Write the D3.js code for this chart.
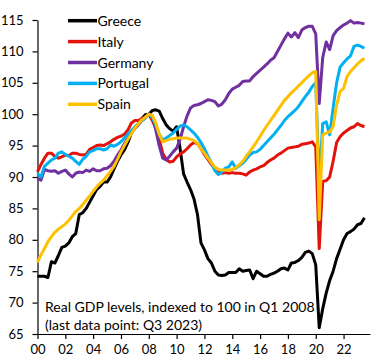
<!DOCTYPE html>
<html>
<head>
<meta charset="utf-8">
<script src="https://cdn.jsdelivr.net/npm/d3@7"></script>
<style>
  html, body { margin: 0; padding: 0; background: #fff; }
  svg { display: block; }
  text { font-family: Lato, "Open Sans", sans-serif; fill: #000; }
</style>
</head>
<body>
<svg id="chart" width="385" height="360"></svg>
<script>
// Quarterly observations, 2000 Q1 .. 2023 Q3 (index = 100 in 2008 Q1)
const startYear = 2000;
const greece = [74.2,74.2,74.2,74.0,76.5,76.3,77.5,78.8,79.0,79.5,80.5,81.0,84.0,84.3,85.0,86.0,87.0,88.0,88.5,89.2,89.2,90.0,91.3,92.5,93.5,94.3,95.5,97.0,97.8,98.5,99.3,99.9,100.0,100.6,100.7,100.5,99.3,98.3,97.7,97.3,98.0,94.5,90.5,89.2,88.0,86.5,84.0,79.5,78.4,77.0,76.3,75.0,74.4,74.3,74.4,74.8,74.8,74.8,75.4,75.0,75.1,75.2,73.8,75.0,74.6,74.2,74.2,74.5,74.7,75.0,75.4,75.5,75.2,76.3,76.4,76.7,77.2,78.0,78.2,77.8,76.0,66.0,69.0,71.5,73.5,75.0,77.0,78.5,80.0,81.0,81.3,81.7,82.4,82.6,83.5];
const italy = [90.8,92.0,93.0,93.8,93.8,93.3,93.0,93.2,93.5,93.4,93.8,93.8,93.6,93.5,93.6,94.4,94.7,95.0,95.1,95.0,95.3,95.6,96.0,96.3,96.5,96.8,97.5,98.6,99.0,99.0,99.3,99.6,100.0,99.0,97.8,96.0,93.8,92.8,92.4,92.5,93.2,93.7,94.0,94.5,95.1,95.5,95.3,94.5,93.6,92.8,92.0,91.3,90.8,90.6,90.7,90.6,90.7,90.6,90.6,90.5,90.3,90.8,91.1,91.3,91.6,91.8,92.3,92.7,93.0,93.5,93.8,94.2,94.6,94.7,94.8,94.9,95.2,95.3,95.4,95.6,94.8,78.6,89.3,89.4,90.0,92.5,95.5,96.4,97.0,97.4,97.8,98.0,98.5,98.2,98.0];
const germany = [89.8,89.5,91.2,91.0,90.9,91.0,90.6,90.9,91.1,90.5,90.0,90.6,90.8,90.7,91.1,90.9,91.3,91.0,91.0,91.3,91.4,91.8,92.5,93.5,94.3,95.3,96.2,97.0,97.8,98.3,99.0,99.4,100.0,99.8,97.5,95.0,93.0,92.7,93.3,94.0,94.6,96.0,98.0,99.7,101.0,101.4,101.5,101.7,102.0,102.3,102.2,102.0,101.3,101.6,102.3,103.3,104.0,104.3,104.6,105.2,105.3,105.3,106.0,106.5,107.0,107.5,108.0,108.6,109.0,110.0,111.0,112.0,112.9,112.3,113.0,112.2,113.4,113.8,114.0,114.0,112.8,101.7,109.0,111.5,110.3,112.5,113.3,113.8,114.2,114.5,114.9,114.5,114.6,114.5,114.4];
const portugal = [90.6,90.0,91.7,92.2,92.7,93.0,93.8,94.0,93.6,93.3,93.0,92.5,92.0,92.8,93.3,94.0,94.2,94.5,94.5,94.3,94.5,95.1,94.9,95.2,95.6,96.2,96.8,97.4,98.0,98.5,99.0,99.4,100.0,99.5,98.3,96.8,95.9,96.2,96.6,97.0,97.6,98.1,98.3,98.0,97.5,97.0,96.3,95.5,94.5,93.3,92.3,91.0,90.4,90.8,91.4,91.6,92.4,91.4,91.8,92.2,92.8,93.5,93.9,94.0,94.4,95.0,95.6,96.2,96.8,97.5,98.2,99.0,99.6,100.1,100.6,101.2,102.0,102.8,103.5,104.4,105.0,89.0,98.5,98.8,96.7,101.0,105.0,107.5,108.2,108.8,109.3,110.8,111.0,110.8,110.5];
const spain = [76.4,77.6,78.6,79.7,80.5,81.2,81.7,82.1,82.5,83.1,83.8,84.5,85.0,85.6,86.3,87.0,87.7,88.4,89.0,89.5,90.2,90.9,91.7,92.8,94.0,95.0,96.0,96.9,97.8,98.5,99.1,99.5,100.0,99.8,98.6,96.8,95.6,95.8,96.0,96.1,96.2,96.2,96.2,96.2,96.0,95.8,95.3,94.5,93.8,93.0,92.3,91.6,91.2,91.1,91.1,91.1,91.2,91.5,91.9,92.5,93.3,94.0,94.8,95.6,96.5,97.4,98.2,99.0,99.8,100.6,101.4,102.2,102.8,103.4,103.9,104.5,105.0,105.6,106.1,106.6,106.8,83.2,96.7,97.0,97.2,98.0,101.5,103.6,104.1,106.0,106.8,107.4,108.0,108.5,108.9];

const seriesNames = ["Greece","Italy","Germany","Portugal","Spain"];
const seriesColors = ["#000000","#E3120B","#7030A0","#00B0F0","#FFC000"];
const yTicks = [65,70,75,80,85,90,95,100,105,110,115];
const xTickYears = [2000,2002,2004,2006,2008,2010,2012,2014,2016,2018,2020,2022];
const xTickLabels = ["00","02","04","06","08","10","12","14","16","18","20","22"];
const noteLines = ["Real GDP levels, indexed to 100 in Q1 2008","(last data point: Q3 2023)"];

const seriesValues = [greece, italy, germany, portugal, spain];

const svg = d3.select("#chart");
const x = d3.scaleLinear().domain([2000, 2023.9]).range([37.5, 370]);
const y = d3.scaleLinear().domain([65, 115]).range([334, 20]);

// axes
const yAxis = d3.axisLeft(y).tickValues(yTicks).tickSize(5).tickSizeOuter(0).tickPadding(9);
const gy = svg.append("g").attr("transform", "translate(37.5,0)").call(yAxis);
gy.selectAll("text").style("font-size", "13px").style("font-family", "Lato, sans-serif");

const xAxis = d3.axisBottom(x).tickValues(xTickYears).tickSize(5).tickSizeOuter(0)
  .tickFormat((d, i) => xTickLabels[i]).tickPadding(6);
const gx = svg.append("g").attr("transform", "translate(0,334)").call(xAxis);
gx.selectAll("text").style("font-size", "13px").style("font-family", "Lato, sans-serif");

[gx, gy].forEach(g => {
  g.selectAll("path.domain").attr("stroke", "#000").attr("stroke-width", 1.2);
  g.selectAll(".tick line").attr("stroke", "#000").attr("stroke-width", 1.2);
});

// lines
const line = d3.line()
  .x((d, i) => x(startYear + i / 4))
  .y(d => y(d));

seriesValues.forEach((vals, k) => {
  svg.append("path")
    .datum(vals)
    .attr("fill", "none")
    .attr("stroke", seriesColors[k])
    .attr("stroke-width", 3)
    .attr("stroke-linejoin", "round")
    .attr("d", line);
});

// legend
const lg = svg.append("g");
seriesNames.forEach((name, k) => {
  const yy = 20.7 + k * 20.9;
  lg.append("line").attr("x1", 68).attr("x2", 97).attr("y1", yy).attr("y2", yy)
    .attr("stroke", seriesColors[k]).attr("stroke-width", 3.5);
  lg.append("text").attr("x", 97.5).attr("y", yy + 5).style("font-size", "14px").text(name);
});

// note
noteLines.forEach((t, k) => {
  svg.append("text").attr("x", 45).attr("y", 311.5 + k * 18)
    .style("font-size", "14px").text(t);
});
</script>
</body>
</html>
